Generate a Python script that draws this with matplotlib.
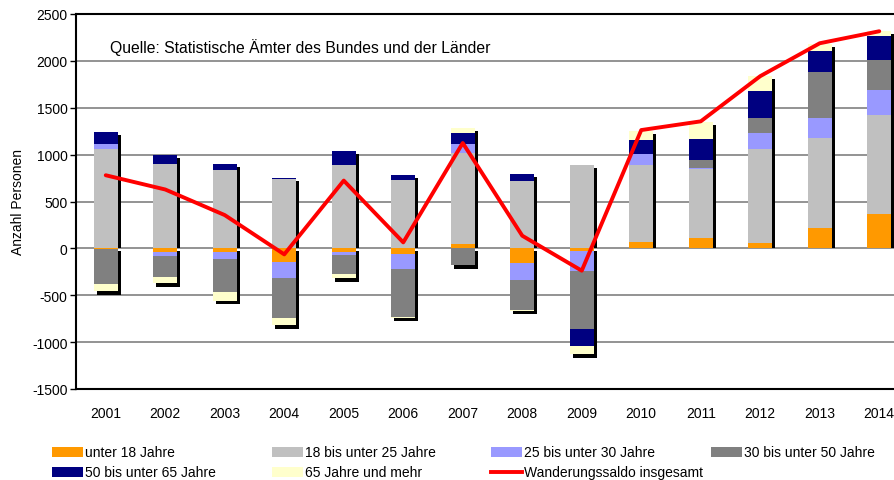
import matplotlib.pyplot as plt
from matplotlib.patches import Rectangle
from matplotlib.lines import Line2D
import numpy as np

plt.rcParams['font.family'] = ['Liberation Sans', 'DejaVu Sans']
plt.rcParams['axes.unicode_minus'] = False

years = ['2001', '2002', '2003', '2004', '2005', '2006', '2007',
         '2008', '2009', '2010', '2011', '2012', '2013', '2014']

# Wanderungssaldo nach Altersgruppen
unter_18 = [-5, -39, -39, -149, -39, -60, 43, -160, -32, 72, 113, 60, 220, 369]
a18_25 = [1064, 904, 840, 745, 894, 734, 978, 723, 894, 820, 735, 1000, 957, 1053]
a25_30 = [53, -46, -78, -170, -35, -163, 96, -180, -213, 115, 10, 170, 213, 266]
a30_50 = [-372, -224, -351, -426, -203, -511, -177, -312, -617, 0, 85, 160, 489, 319]
a50_65 = [128, 89, 64, 10, 149, 53, 117, 75, -181, 148, 224, 287, 224, 255]
a65_plus = [-82, -63, -89, -74, -42, -5, 50, -11, -85, 97, 177, 160, 74, 54]
insgesamt = [780, 628, 355, -64, 723, 64, 1124, 135, -238, 1262, 1355, 1837, 2188, 2316]

labels = ['unter 18 Jahre', '18 bis unter 25 Jahre', '25 bis unter 30 Jahre',
          '30 bis unter 50 Jahre', '50 bis unter 65 Jahre', '65 Jahre und mehr']
colors = ['#FF9900', '#C0C0C0', '#9999FF', '#808080', '#000080', '#FFFFCC']
series = [unter_18, a18_25, a25_30, a30_50, a50_65, a65_plus]

fig = plt.figure(figsize=(8.94, 4.81), dpi=100)
ax = fig.add_axes([76 / 894, 91 / 481, 833 / 894, 375 / 481])

x = np.arange(len(years))
data = np.array(series, dtype=float)
pos_top = np.where(data > 0, data, 0).sum(axis=0)
neg_bot = np.where(data < 0, data, 0).sum(axis=0)

# Schatten
dx = 0.05
ax.bar(x + dx, pos_top - 32, bottom=0, width=0.4, color='black', zorder=2)
has_neg = neg_bot < 0
ax.bar(x[has_neg] + dx, neg_bot[has_neg] - 10, bottom=-30, width=0.4,
       color='black', zorder=2)

pos_base = np.zeros(len(years))
neg_base = np.zeros(len(years))
for vals, col in zip(data, colors):
    bottom = np.where(vals >= 0, pos_base, neg_base)
    ax.bar(x, vals, bottom=bottom, width=0.4, color=col, zorder=3)
    pos_base += np.where(vals > 0, vals, 0)
    neg_base += np.where(vals < 0, vals, 0)

ax.plot(x, insgesamt, color='#FF0000', lw=2.8, zorder=4, solid_capstyle='round')

ax.set_xlim(-0.5, 13.5)
ax.set_ylim(-1500, 2500)
ax.set_yticks(range(-1500, 2501, 500))
ax.set_xticks(x)
ax.set_xticklabels(years)
ax.tick_params(axis='x', length=0, pad=12, labelsize=10)
ax.tick_params(axis='y', length=4, width=1, labelsize=10, pad=2)
ax.yaxis.grid(True, color='#808080', lw=1.2, zorder=1)
ax.set_axisbelow(True)
for s in ['right', 'bottom']:
    ax.spines[s].set_visible(False)
ax.spines['left'].set_linewidth(1.5)
ax.spines['top'].set_linewidth(1.5)
ax.axhline(-1500, color='black', lw=1.5, zorder=1, clip_on=False)
ax.set_ylabel('Anzahl Personen', fontsize=10, labelpad=5)

fig.text(110 / 894, (481 - 48) / 481, 'Quelle: Statistische Ämter des Bundes und der Länder',
         fontsize=11.3, va='center', ha='left')

# Legende
leg_x = [52, 272, 491, 711]
leg_y = [453, 473]
entries = list(zip(labels, colors)) + [('Wanderungssaldo insgesamt', None)]
for i, (lab, col) in enumerate(entries):
    px = leg_x[i % 4]
    py = leg_y[i // 4]
    if col is not None:
        fig.patches.append(Rectangle((px / 894, (481 - py - 5) / 481), 31 / 894, 10 / 481,
                                     facecolor=col, edgecolor='none',
                                     transform=fig.transFigure, figure=fig))
    else:
        fig.lines.append(Line2D([px / 894, (px + 31) / 894], [(481 - py) / 481] * 2,
                                color='#FF0000', lw=2.8, transform=fig.transFigure,
                                figure=fig))
    fig.text((px + 33) / 894, (481 - py) / 481, lab, fontsize=10, va='center', ha='left')

fig.savefig('out.png', dpi=100)
